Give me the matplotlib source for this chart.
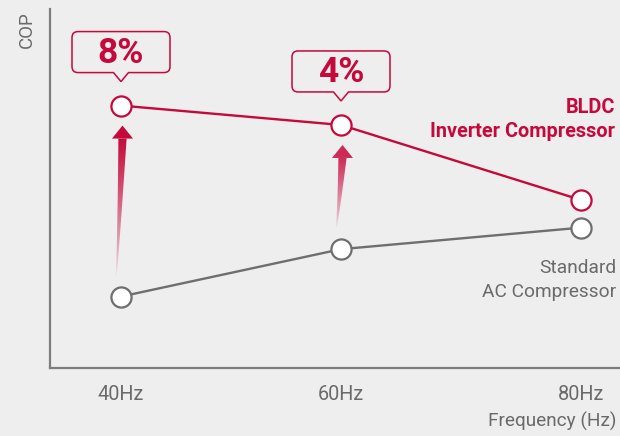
import numpy as np
import matplotlib
matplotlib.use("Agg")
import matplotlib.pyplot as plt
from matplotlib.path import Path
from matplotlib.patches import PathPatch, Polygon

# ---- data -------------------------------------------------------------
freq = [40, 60, 80]
tick_labels = ["40Hz", "60Hz", "80Hz"]
cop_inverter = [73.1, 67.7, 46.8]
cop_standard = [19.9, 33.1, 39.1]
gain_labels = ["8%", "4%"]          # improvement at 40Hz and 60Hz

# ---- style ------------------------------------------------------------
RED = "#c5093b"
LINE_GRAY = "#6e6e6e"
TEXT_GRAY = "#6a6a6a"
AXIS_GRAY = "#7d7d7d"
BG = "#eeeeee"
FONT = ["Roboto", "DejaVu Sans"]
plt.rcParams["font.family"] = FONT

W, H = 620, 436
fig = plt.figure(figsize=(W / 100, H / 100), dpi=100, facecolor=BG)
ax = fig.add_axes([50 / W, (H - 368) / H, (W - 50) / W, (368 - 9) / H])
ax.set_facecolor(BG)


# frequency axis is drawn with slightly widening spacing toward 80Hz
def fwd(x):
    u = np.asarray(x, float) - 40
    return 10.5 * u + 0.025 * u * u


def inv(p):
    p = np.asarray(p, float)
    return 40 + (-10.5 + np.sqrt(np.maximum(110.25 + 0.1 * p, 0))) / 0.05


ax.set_xscale("function", functions=(fwd, inv))
ax.set_xlim(inv(-71), inv(499))
ax.set_ylim(0, 100)

for s in ("top", "right"):
    ax.spines[s].set_visible(False)
for s in ("left", "bottom"):
    ax.spines[s].set_color(AXIS_GRAY)
    ax.spines[s].set_linewidth(1.6)

ax.set_xticks(freq, tick_labels)
ax.xaxis.set_minor_locator(plt.NullLocator())
ax.set_yticks([])
ax.tick_params(axis="x", length=0, pad=12, labelsize=14.3, labelcolor=TEXT_GRAY)

mk = dict(marker="o", ms=14.5, mfc="white", mew=1.6)
ax.plot(freq, cop_standard, color=LINE_GRAY, lw=1.7, mec=LINE_GRAY, zorder=3, **mk)
ax.plot(freq, cop_inverter, color=RED, lw=1.7, mec=RED, zorder=3, **mk)

# ---- text labels ------------------------------------------------------
def fy(py):
    return 1 - py / H


fig.text(27 / W, fy(29.5), "COP", rotation=90, ha="center", va="center",
         fontsize=13.5, color=TEXT_GRAY)
fig.text(617 / W, fy(427), "Frequency (Hz)", ha="right", va="baseline",
         fontsize=13.7, color=TEXT_GRAY)
fig.text(615 / W, fy(113.3), "BLDC", ha="right", va="baseline",
         fontsize=14.3, fontweight="bold", color=RED)
fig.text(615 / W, fy(137.3), "Inverter Compressor", ha="right", va="baseline",
         fontsize=14.3, fontweight="bold", color=RED)
fig.text(616 / W, fy(273.3), "Standard", ha="right", va="baseline",
         fontsize=13.8, color=TEXT_GRAY)
fig.text(616 / W, fy(297.3), "AC Compressor", ha="right", va="baseline",
         fontsize=13.8, color=TEXT_GRAY)

# ---- overlay in pixel units for callouts and gradient arrows ---------
ov = fig.add_axes([0, 0, 1, 1], zorder=5)
ov.set_xlim(0, W)
ov.set_ylim(0, H)
ov.axis("off")
ov.patch.set_alpha(0)

to_px = ax.transData.transform


def callout(cx, tip_y, label):
    half_w, box_h, notch_h, notch_w, r = 49, 41, 9, 7.5, 6
    b = tip_y + notch_h
    t = b + box_h
    L, R = cx - half_w, cx + half_w
    verts = [(cx - notch_w, b), (cx, tip_y), (cx + notch_w, b),
             (R - r, b), (R, b), (R, b + r),
             (R, t - r), (R, t), (R - r, t),
             (L + r, t), (L, t), (L, t - r),
             (L, b + r), (L, b), (L + r, b),
             (cx - notch_w, b)]
    codes = [Path.MOVETO, Path.LINETO, Path.LINETO,
             Path.LINETO, Path.CURVE3, Path.CURVE3,
             Path.LINETO, Path.CURVE3, Path.CURVE3,
             Path.LINETO, Path.CURVE3, Path.CURVE3,
             Path.LINETO, Path.CURVE3, Path.CURVE3,
             Path.CLOSEPOLY]
    ov.add_patch(PathPatch(Path(verts, codes), facecolor=BG, edgecolor=RED,
                           lw=1.1, zorder=4))
    ov.text(cx, (b + t) / 2 - 1, label, ha="center", va="center",
            fontsize=25.5, fontweight="bold", color=RED, zorder=5)


red_rgb = np.array(matplotlib.colors.to_rgb(RED))


def gradient_arrow(cx, tail_y, tip_y, top_alpha):
    head_h, head_hw = 13, 10.5
    base_y = tip_y - head_h
    tt = np.linspace(0, 1, 40)
    ys = tail_y + (base_y - tail_y) * tt
    xc = cx - 5 + 6.5 * tt ** 0.8
    hw = 0.5 + 3.6 * tt ** 1.1
    left = np.column_stack([xc - hw, ys])
    right = np.column_stack([xc + hw, ys])[::-1]
    shaft = Polygon(np.vstack([left, right]), closed=True,
                    facecolor="none", edgecolor="none")
    ov.add_patch(shaft)
    n = 200
    alpha = np.linspace(0, 1, n) ** 0.8 * top_alpha
    img = np.zeros((n, 2, 4))
    img[..., :3] = red_rgb
    img[..., 3] = alpha[:, None]
    im = ov.imshow(img, extent=[cx - 15, cx + 15, tail_y, base_y + 0.5],
                   origin="lower", aspect="auto", interpolation="bilinear",
                   zorder=3)
    im.set_clip_path(shaft)
    hx = cx + 1.5
    ov.add_patch(Polygon([(hx - head_hw, base_y), (hx + head_hw, base_y),
                          (hx, tip_y)], closed=True, facecolor=RED,
                         alpha=top_alpha, edgecolor="none", zorder=3))


for i, label in enumerate(gain_labels):
    px, red_py = to_px((freq[i], cop_inverter[i]))
    _, gray_py = to_px((freq[i], cop_standard[i]))
    callout(px, red_py + 24, label)
    gradient_arrow(px, gray_py + 20, red_py - 20, [1.0, 0.85][i])

ov.set_xlim(0, W)
ov.set_ylim(0, H)

fig.savefig("out.png", dpi=100, facecolor=BG)
